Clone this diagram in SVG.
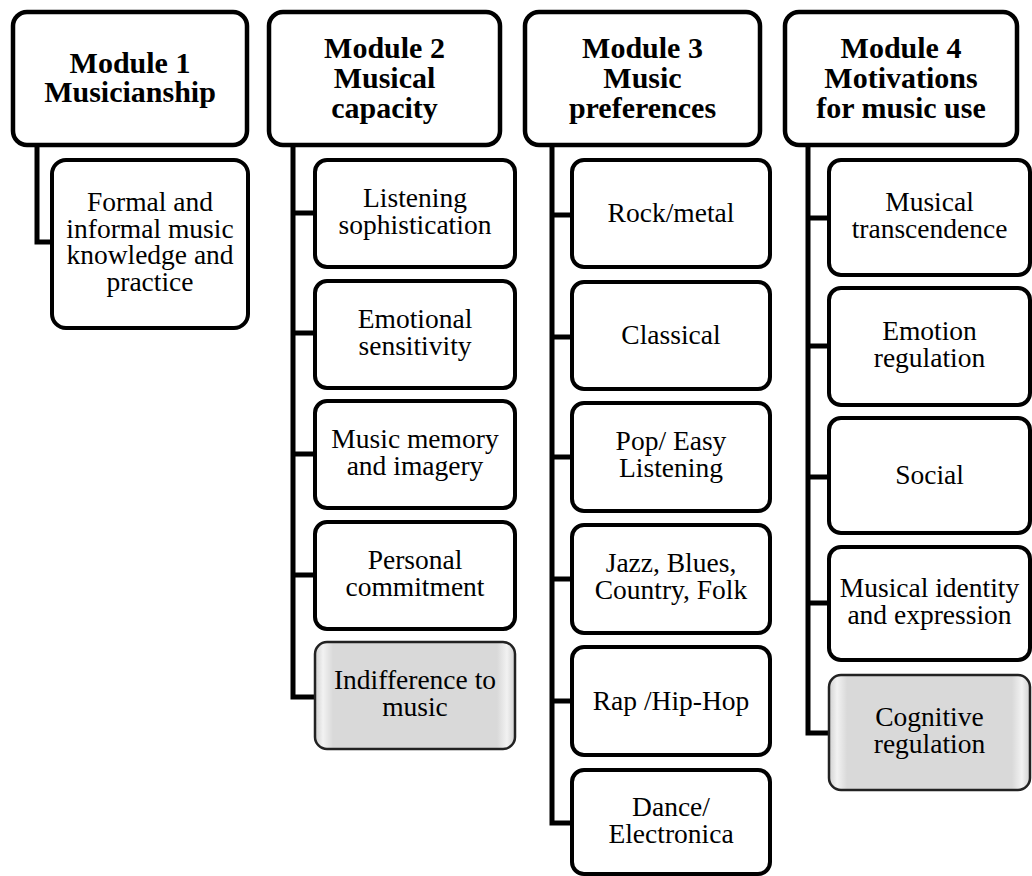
<svg xmlns="http://www.w3.org/2000/svg" width="1032" height="876" viewBox="0 0 1032 876">
<defs>
<style>
.hdr{fill:#fff;stroke:#000;stroke-width:4.5}
.box{fill:#fff;stroke:#000;stroke-width:4}
.gray{fill:url(#bevel);stroke:#222;stroke-width:2.5}
.ht{font-family:"Liberation Serif","Times New Roman",serif;font-weight:bold;font-size:30px;text-anchor:middle;fill:#000}
.ct{font-family:"Liberation Serif","Times New Roman",serif;font-size:27.5px;text-anchor:middle;fill:#000}
.conn{fill:none;stroke:#000;stroke-width:5}
</style>
<linearGradient id="bevel" x1="0" y1="0" x2="1" y2="0">
<stop offset="0" stop-color="#d0d0d0"/>
<stop offset="0.04" stop-color="#f2f2f2"/>
<stop offset="0.09" stop-color="#d9d9d9"/>
<stop offset="0.91" stop-color="#d9d9d9"/>
<stop offset="0.96" stop-color="#f2f2f2"/>
<stop offset="1" stop-color="#d0d0d0"/>
</linearGradient>
</defs>
<rect width="1032" height="876" fill="#fff"/>

<g id="connectors">
<path class="conn" d="M37,145 V242 H52"/>
<path class="conn" d="M293,145 V697 M293,213 H315 M293,333 H315 M293,454 H315 M293,575 H315 M290.5,697 H315"/>
<path class="conn" d="M552,145 V823 M552,215 H572 M552,337 H572 M552,457 H572 M552,579 H572 M552,701 H572 M549.5,823 H572"/>
<path class="conn" d="M808,145 V733 M808,218 H829 M808,346 H829 M808,477 H829 M808,603 H829 M805.5,733 H829"/>
</g>

<g id="module1">
<rect class="hdr" x="13" y="12" width="234" height="133" rx="14"/>
<text class="ht" x="130" y="73"><tspan x="130">Module 1</tspan><tspan x="130" dy="29">Musicianship</tspan></text>
</g>
<g id="m1-formal">
<rect class="box" x="52" y="160" width="196" height="168" rx="14"/>
<text class="ct" x="150" y="211"><tspan x="150">Formal and</tspan><tspan x="150" dy="26.5">informal music</tspan><tspan x="150" dy="26.5">knowledge and</tspan><tspan x="150" dy="26.5">practice</tspan></text>
</g>

<g id="module2">
<rect class="hdr" x="269" y="12" width="231" height="133" rx="14"/>
<text class="ht" x="384.5" y="58"><tspan x="384.5">Module 2</tspan><tspan x="384.5" dy="30">Musical</tspan><tspan x="384.5" dy="30">capacity</tspan></text>
</g>
<g id="m2-listening">
<rect class="box" x="315" y="160" width="200" height="107" rx="12"/>
<text class="ct" x="415" y="207"><tspan x="415">Listening</tspan><tspan x="415" dy="26.5">sophistication</tspan></text>
</g>
<g id="m2-emotional">
<rect class="box" x="315" y="281" width="200" height="107" rx="12"/>
<text class="ct" x="415" y="328"><tspan x="415">Emotional</tspan><tspan x="415" dy="26.5">sensitivity</tspan></text>
</g>
<g id="m2-memory">
<rect class="box" x="315" y="401" width="200" height="107" rx="12"/>
<text class="ct" x="415" y="448"><tspan x="415">Music memory</tspan><tspan x="415" dy="26.5">and imagery</tspan></text>
</g>
<g id="m2-personal">
<rect class="box" x="315" y="522" width="200" height="107" rx="12"/>
<text class="ct" x="415" y="569"><tspan x="415">Personal</tspan><tspan x="415" dy="26.5">commitment</tspan></text>
</g>
<g id="m2-indifference">
<rect class="gray" x="315" y="642" width="200" height="107" rx="12"/>
<text class="ct" x="415" y="689"><tspan x="415">Indifference to</tspan><tspan x="415" dy="26.5">music</tspan></text>
</g>

<g id="module3">
<rect class="hdr" x="525" y="12" width="235" height="133" rx="14"/>
<text class="ht" x="642.5" y="58"><tspan x="642.5">Module 3</tspan><tspan x="642.5" dy="30">Music</tspan><tspan x="642.5" dy="30">preferences</tspan></text>
</g>
<g id="m3-rock">
<rect class="box" x="572" y="160" width="198" height="107" rx="12"/>
<text class="ct" x="671" y="222">Rock/metal</text>
</g>
<g id="m3-classical">
<rect class="box" x="572" y="282" width="198" height="107" rx="12"/>
<text class="ct" x="671" y="344">Classical</text>
</g>
<g id="m3-pop">
<rect class="box" x="572" y="403" width="198" height="108" rx="12"/>
<text class="ct" x="671" y="450"><tspan x="671">Pop/ Easy</tspan><tspan x="671" dy="26.5">Listening</tspan></text>
</g>
<g id="m3-jazz">
<rect class="box" x="572" y="525" width="198" height="108" rx="12"/>
<text class="ct" x="671" y="572"><tspan x="671">Jazz, Blues,</tspan><tspan x="671" dy="26.5">Country, Folk</tspan></text>
</g>
<g id="m3-rap">
<rect class="box" x="572" y="647" width="198" height="108" rx="12"/>
<text class="ct" x="671" y="710">Rap /Hip-Hop</text>
</g>
<g id="m3-dance">
<rect class="box" x="572" y="770" width="198" height="104" rx="12"/>
<text class="ct" x="671" y="816"><tspan x="671">Dance/</tspan><tspan x="671" dy="26.5">Electronica</tspan></text>
</g>

<g id="module4">
<rect class="hdr" x="785" y="12" width="232" height="133" rx="14"/>
<text class="ht" x="901" y="58"><tspan x="901">Module 4</tspan><tspan x="901" dy="30">Motivations</tspan><tspan x="901" dy="30">for music use</tspan></text>
</g>
<g id="m4-transcendence">
<rect class="box" x="829" y="160" width="201" height="115" rx="12"/>
<text class="ct" x="929.5" y="211"><tspan x="929.5">Musical</tspan><tspan x="929.5" dy="26.5">transcendence</tspan></text>
</g>
<g id="m4-emotion">
<rect class="box" x="829" y="288" width="201" height="117" rx="12"/>
<text class="ct" x="929.5" y="340"><tspan x="929.5">Emotion</tspan><tspan x="929.5" dy="26.5">regulation</tspan></text>
</g>
<g id="m4-social">
<rect class="box" x="829" y="418" width="201" height="115" rx="12"/>
<text class="ct" x="929.5" y="484">Social</text>
</g>
<g id="m4-identity">
<rect class="box" x="829" y="547" width="201" height="113" rx="12"/>
<text class="ct" x="929.5" y="597"><tspan x="929.5">Musical identity</tspan><tspan x="929.5" dy="26.5">and expression</tspan></text>
</g>
<g id="m4-cognitive">
<rect class="gray" x="829" y="675" width="201" height="115" rx="12"/>
<text class="ct" x="929.5" y="726"><tspan x="929.5">Cognitive</tspan><tspan x="929.5" dy="26.5">regulation</tspan></text>
</g>
</svg>
